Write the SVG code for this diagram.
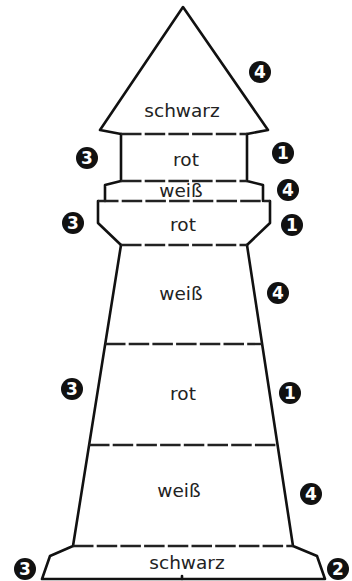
<svg xmlns="http://www.w3.org/2000/svg" width="352" height="581" viewBox="0 0 352 581">
<style>
.o{fill:none;stroke:#111;stroke-width:2.6;stroke-linejoin:round;stroke-linecap:round}
.d{fill:none;stroke:#222;stroke-width:2.4;stroke-dasharray:20.5 3.2}
.t{font-family:"DejaVu Sans",sans-serif;font-size:18.5px;fill:#222;text-anchor:middle}
.c{fill:#111}
.n{font-family:"DejaVu Sans",sans-serif;font-weight:bold;font-size:17px;fill:#fff;text-anchor:middle}
</style>
<rect width="352" height="581" fill="#fff"/>
<g id="lighthouse">
<path class="o" d="M121,134 L100,130 L183,7 L268,130 L247,134"/>
<path class="o" d="M121,134 V181 L105,185 V201 M247,134 V181 L263,185 V201"/>
<path class="o" d="M98,201 V223 L121,245 M270,201 V223 L247,245"/>
<path class="o" d="M121,245 L73,546 L50,556 L42,579 H325 L317,556 L293,546 L247,245"/>
<path class="o" d="M182,576 V579"/>
</g>
<g id="bands">
<path class="d" d="M121,134 H247"/>
<path class="d" d="M121,181 H247"/>
<path class="d" d="M98,201 H270"/>
<path class="d" d="M121,245 H247"/>
<path class="d" d="M105,344 H262"/>
<path class="d" d="M89,445 H277"/>
<path class="d" d="M73,546 H293"/>
</g>
<g id="labels">
<text class="t" x="182" y="117">schwarz</text>
<text class="t" x="186" y="166">rot</text>
<text class="t" x="181" y="197">weiß</text>
<text class="t" x="183" y="231">rot</text>
<text class="t" x="181" y="300">weiß</text>
<text class="t" x="183" y="400">rot</text>
<text class="t" x="179" y="497">weiß</text>
<text class="t" x="187" y="569">schwarz</text>
</g>
<g id="markers">
<g id="m1"><circle class="c" cx="260" cy="72" r="11"/><text class="n" x="260" y="78">4</text></g>
<g id="m2"><circle class="c" cx="283" cy="153" r="11"/><text class="n" x="283" y="159">1</text></g>
<g id="m3"><circle class="c" cx="87" cy="158" r="11"/><text class="n" x="87" y="164">3</text></g>
<g id="m4"><circle class="c" cx="288" cy="190" r="11"/><text class="n" x="288" y="196">4</text></g>
<g id="m5"><circle class="c" cx="73" cy="223" r="11"/><text class="n" x="73" y="229">3</text></g>
<g id="m6"><circle class="c" cx="292" cy="225" r="11"/><text class="n" x="292" y="231">1</text></g>
<g id="m7"><circle class="c" cx="278" cy="293" r="11"/><text class="n" x="278" y="299">4</text></g>
<g id="m8"><circle class="c" cx="72" cy="389" r="11"/><text class="n" x="72" y="395">3</text></g>
<g id="m9"><circle class="c" cx="290" cy="393" r="11"/><text class="n" x="290" y="399">1</text></g>
<g id="m10"><circle class="c" cx="311" cy="494" r="11"/><text class="n" x="311" y="500">4</text></g>
<g id="m11"><circle class="c" cx="25" cy="569" r="11"/><text class="n" x="25" y="575">3</text></g>
<g id="m12"><circle class="c" cx="338" cy="569" r="11"/><text class="n" x="338" y="575">2</text></g>
</g>
</svg>
